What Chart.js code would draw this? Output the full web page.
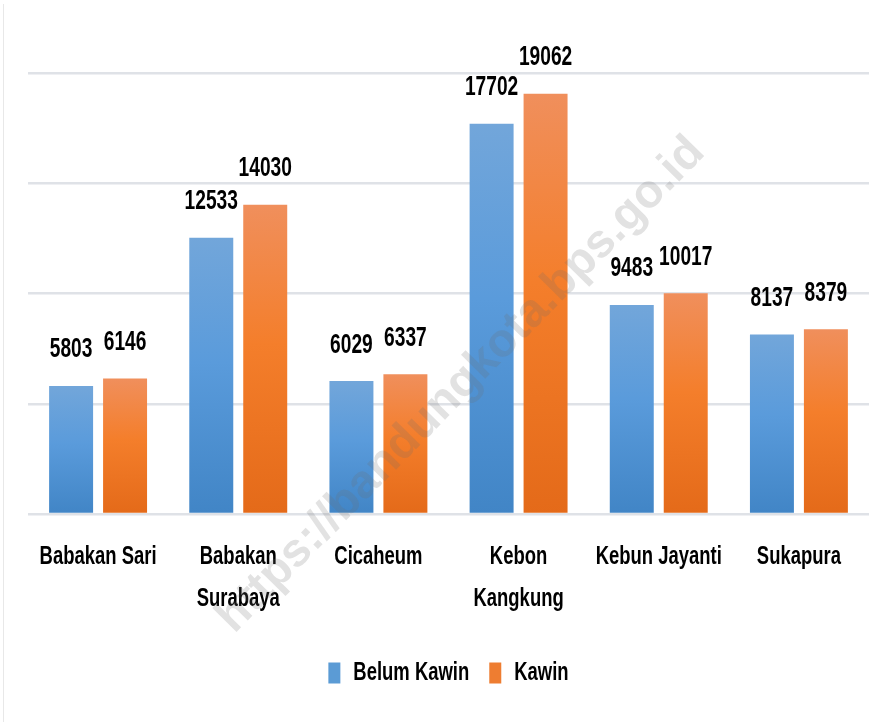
<!DOCTYPE html>
<html>
<head>
<meta charset="utf-8">
<script src="https://cdn.jsdelivr.net/npm/chart.js@4.4.1/dist/chart.umd.min.js"></script>
<style>
    html, body { margin: 0; padding: 0; background: #fff; }
</style>
</head>
<body>
<canvas id="myChart" width="894" height="722"></canvas>
<script>
const ctx = document.getElementById('myChart');

const categories = ['Babakan Sari', ['Babakan', 'Surabaya'], 'Cicaheum', ['Kebon', 'Kangkung'], 'Kebun Jayanti', 'Sukapura'];
const belumKawin = [5803, 12533, 6029, 17702, 9483, 8137];
const kawin = [6146, 14030, 6337, 19062, 10017, 8379];

const FONT = '"Liberation Sans", Arial, sans-serif';

// no narrow font installed -> squeeze the text horizontally (Calibri-ish look)
const SQUISH = 0.71;
const c2d = ctx.getContext('2d');
const rawFill = c2d.fillText.bind(c2d);
const rawMeasure = c2d.measureText.bind(c2d);
c2d.fillText = function (text, x, y, maxWidth) {
    this.save();
    this.translate(x, y);
    this.scale(SQUISH, 1);
    rawFill(text, 0, 0);
    this.restore();
};
c2d.measureText = function (text) {
    const m = rawMeasure(text);
    return {
        width: m.width * SQUISH,
        actualBoundingBoxAscent: m.actualBoundingBoxAscent,
        actualBoundingBoxDescent: m.actualBoundingBoxDescent,
        actualBoundingBoxLeft: m.actualBoundingBoxLeft * SQUISH,
        actualBoundingBoxRight: m.actualBoundingBoxRight * SQUISH,
    };
};

// gradient per bar, light at top, darker at the base
function barGradient(top, mid, bottom) {
    return function (context) {
        const chart = context.chart;
        if (!chart.chartArea || context.type !== 'data') return mid;
        const y = chart.scales.y;
        const yTop = y.getPixelForValue(context.raw);
        const yBot = y.getPixelForValue(0);
        const g = chart.ctx.createLinearGradient(0, yTop, 0, yBot);
        g.addColorStop(0, top);
        g.addColorStop(0.45, mid);
        g.addColorStop(1, bottom);
        return g;
    };
}

const valueLabels = {
    id: 'valueLabels',
    afterDatasetsDraw(chart) {
        const c = chart.ctx;
        c.save();
        c.font = 'bold 27px ' + FONT;
        c.fillStyle = '#000';
        c.textAlign = 'center';
        c.textBaseline = 'middle';
        chart.data.datasets.forEach((ds, i) => {
            chart.getDatasetMeta(i).data.forEach((bar, j) => {
                c.fillText(ds.data[j], bar.x, bar.y - 36);
            });
        });
        c.restore();
    }
};

const watermark = {
    id: 'watermark',
    beforeDraw(chart) {
        const c = chart.ctx;
        c.save();
        c.strokeStyle = '#e8e8e8';
        c.lineWidth = 1;
        c.beginPath();
        c.moveTo(3.5, 4);
        c.lineTo(3.5, 722);
        c.stroke();
        c.restore();
    },
    afterDraw(chart) {
        const c = chart.ctx;
        c.save();
        c.translate(461, 385);
        c.rotate(-45.5 * Math.PI / 180);
        c.font = 'bold 47px "Liberation Sans", Arial, sans-serif';
        c.fillStyle = 'rgba(110,110,110,0.2)';
        c.textAlign = 'center';
        c.textBaseline = 'middle';
        rawFill('https://bandungkota.bps.go.id', 0, 0);
        c.restore();
    }
};

new Chart(ctx, {
    type: 'bar',
    plugins: [watermark, valueLabels],
    data: {
        labels: categories,
        datasets: [
            {
                label: 'Belum Kawin',
                data: belumKawin,
                backgroundColor: barGradient('#72a6da', '#5a9bdb', '#4185c6'),
                categoryPercentage: 0.77,
                barPercentage: 0.815,
            },
            {
                label: 'Kawin',
                data: kawin,
                backgroundColor: barGradient('#f08f5c', '#f47e2b', '#e46a19'),
                categoryPercentage: 0.77,
                barPercentage: 0.815,
            },
        ],
    },
    options: {
        responsive: false,
        animation: false,
        layout: {
            padding: { left: 28, right: 25, top: 73, bottom: 26 }
        },
        scales: {
            x: {
                grid: { display: false, drawTicks: false },
                border: { display: false },
                ticks: {
                    color: '#000',
                    padding: 22,
                    maxRotation: 0,
                    autoSkip: false,
                    font: { family: FONT, size: 26, weight: 'bold', lineHeight: 1.6 }
                },
                afterFit(scale) { scale.height = 126; }
            },
            y: {
                min: 0,
                max: 20000,
                ticks: { display: false, stepSize: 5000 },
                border: { display: false },
                grid: { color: '#dfe2e7', lineWidth: 2.5, drawTicks: false }
            }
        },
        plugins: {
            tooltip: { enabled: false },
            legend: {
                position: 'bottom',
                labels: {
                    color: '#000',
                    boxWidth: 12,
                    boxHeight: 21,
                    padding: 20,
                    font: { family: FONT, size: 26, weight: 'bold' },
                    generateLabels(chart) {
                        const fills = ['#5b9bd5', '#ee7d31'];
                        return chart.data.datasets.map((ds, i) => ({
                            text: ds.label,
                            fillStyle: fills[i],
                            strokeStyle: fills[i],
                            lineWidth: 0,
                            fontColor: '#000',
                            datasetIndex: i,
                        }));
                    }
                }
            }
        }
    }
});
</script>
</body>
</html>
